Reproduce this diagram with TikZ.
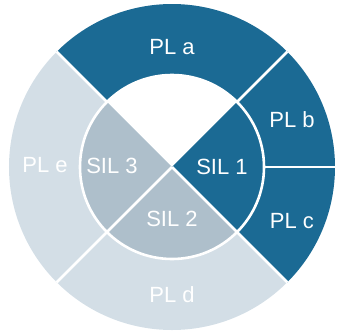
\documentclass[tikz,border=0pt]{standalone}
\usepackage{fontspec}
\setmainfont{Liberation Sans}
\usetikzlibrary{calc}
\definecolor{PLDark}{HTML}{1B6A94}
\definecolor{PLLight}{HTML}{D3DEE6}
\definecolor{SILMid}{HTML}{AEBFCB}

\tikzset{
  lbl/.style={text=white,font=\fontsize{22}{24}\selectfont,inner sep=0pt},
  gap/.style={white,line width=2.6pt}
}

\begin{document}
\begin{tikzpicture}[x=1pt,y=1pt]
\useasboundingbox (-172,-166) rectangle (165,167);
% outer ring
\fill[PLDark] (0,0) -- (-45:163) arc (-45:135:163) -- cycle;
\fill[PLLight] (0,0) -- (135:163) arc (135:315:163) -- cycle;
% inner disc
\fill[white] (0,0) -- (45:92) arc (45:135:92) -- cycle;
\fill[PLDark] (0,0) -- (-45:92) arc (-45:45:92) -- cycle;
\fill[SILMid] (0,0) -- (135:92) arc (135:315:92) -- cycle;
% separators
\draw[gap] (0,0) circle (92);
\draw[gap] (0,0) -- (-45:163);
\draw[gap] (0,0) -- (225:163);
\draw[gap] (45:92) -- (45:163);
\draw[gap] (135:92) -- (135:163);
\draw[gap] (0:92) -- (0:163);
% labels
\node[lbl] (pla) at (0,120) {PL a};
\node[lbl] (plb) at (120,47) {PL b};
\node[lbl] (plc) at (120,-54) {PL c};
\node[lbl] (pld) at (0,-128) {PL d};
\node[lbl] (ple) at (-127,2) {PL e};
\node[lbl] (sil1) at (50,0) {SIL 1};
\node[lbl] (sil2) at (0,-52) {SIL 2};
\node[lbl] (sil3) at (-60,1) {SIL 3};
\end{tikzpicture}
\end{document}
